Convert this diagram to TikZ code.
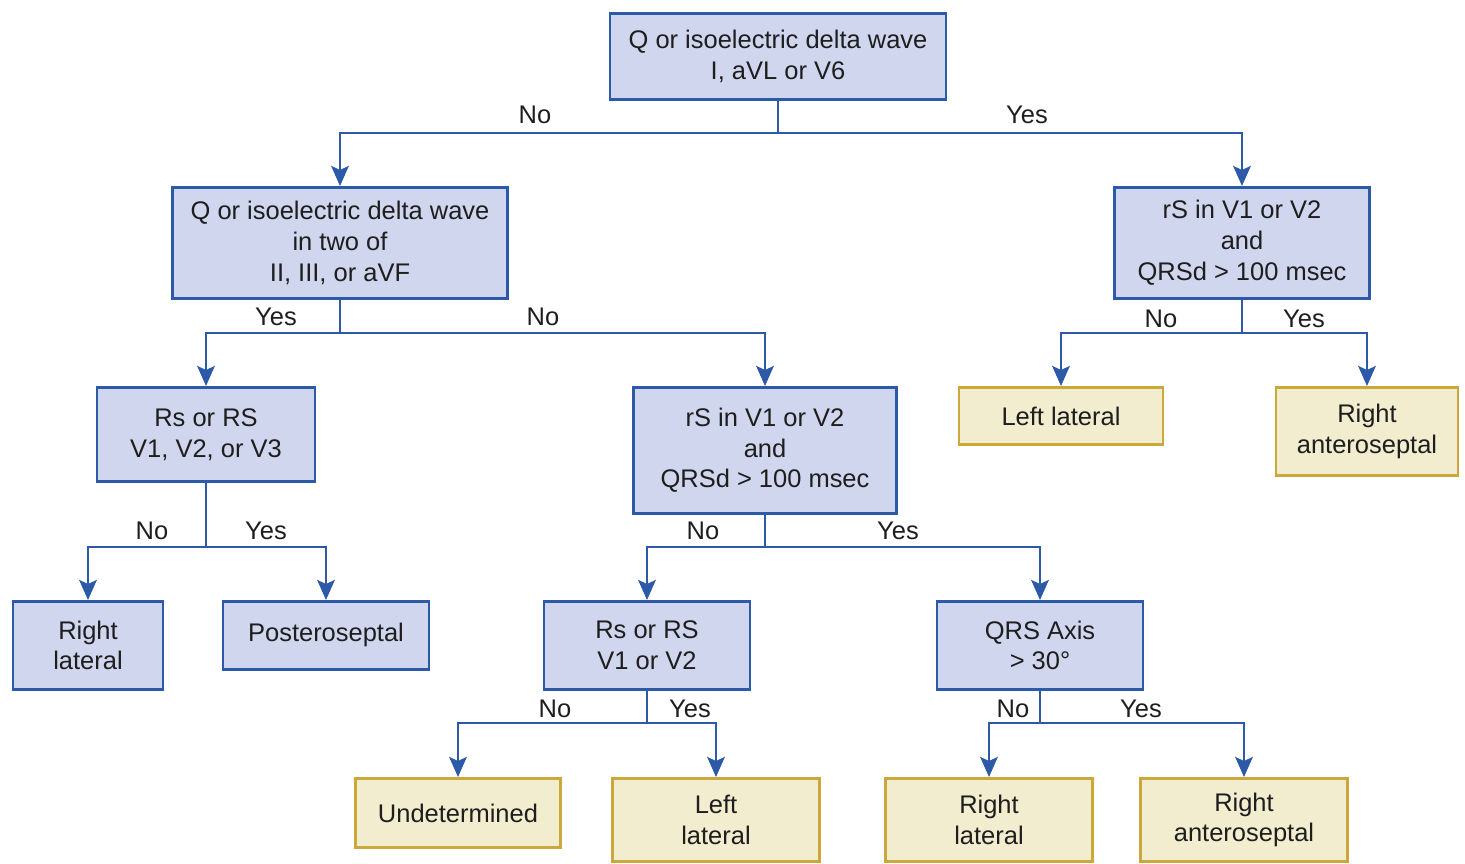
\documentclass[tikz,border=0pt]{standalone}
\usepackage{fontspec}
\setmainfont{Liberation Sans}
\usetikzlibrary{arrows.meta}

\definecolor{qfill}{RGB}{208,214,238}
\definecolor{qline}{RGB}{44,90,168}
\definecolor{afill}{RGB}{243,237,208}
\definecolor{aline}{RGB}{203,167,60}
\definecolor{txt}{RGB}{30,30,30}

\begin{document}
\begin{tikzpicture}[x=0.02cm, y=-0.02cm]

	\tikzstyle{every node}=[font=\fontsize{14.5}{17.5}\selectfont, text=txt]
	\tikzstyle{qbox}=[draw=qline, fill=qfill, line width=1.6pt, align=center, anchor=north, inner sep=2pt]
	\tikzstyle{abox}=[draw=aline, fill=afill, line width=1.6pt, align=center, anchor=north, inner sep=2pt]
	\tikzstyle{link}=[draw=qline, line width=1.6pt]
	\tikzstyle{arrow}=[link, -{Stealth[length=4mm, width=3.5mm, inset=0.8mm]}]

	\useasboundingbox (0,0) rectangle (1465,863);

	% questions
	\node[qbox, minimum width=6.72cm, minimum height=1.72cm] (root) at (778,12) {Q or isoelectric delta wave\\I, aVL or V6};
	\node[qbox, minimum width=6.7cm, minimum height=2.22cm] (A) at (340,186) {Q or isoelectric delta wave\\in two of\\II, III, or aVF};
	\node[qbox, minimum width=5.1cm, minimum height=2.22cm] (B) at (1242,186) {rS in V1 or V2\\and\\QRSd > 100 msec};
	\node[qbox, minimum width=4.36cm, minimum height=1.88cm] (C) at (206,386) {Rs or RS\\V1, V2, or V3};
	\node[qbox, minimum width=5.26cm, minimum height=2.52cm] (D) at (765,386) {rS in V1 or V2\\and\\QRSd > 100 msec};
	\node[qbox, minimum width=4.12cm, minimum height=1.76cm] (E) at (647,600) {Rs or RS\\V1 or V2};
	\node[qbox, minimum width=4.12cm, minimum height=1.76cm] (F) at (1040,600) {QRS Axis\\> 30°};

	% answers
	\node[abox, minimum width=4.08cm, minimum height=1.14cm] (ll1) at (1061,386) {Left lateral};
	\node[abox, minimum width=3.64cm, minimum height=1.76cm] (ra1) at (1367,386) {Right\\anteroseptal};
	\node[qbox, minimum width=3.0cm, minimum height=1.76cm] (rl1) at (88,600) {Right\\lateral};
	\node[qbox, minimum width=4.12cm, minimum height=1.36cm] (ps) at (326,600) {Posteroseptal};
	\node[abox, minimum width=4.1cm, minimum height=1.38cm] (und) at (458,777) {Undetermined};
	\node[abox, minimum width=4.14cm, minimum height=1.66cm] (ll2) at (716,777) {Left\\lateral};
	\node[abox, minimum width=4.14cm, minimum height=1.66cm] (rl2) at (989,777) {Right\\lateral};
	\node[abox, minimum width=4.14cm, minimum height=1.66cm] (ra2) at (1244,777) {Right\\anteroseptal};

	% branch points
	\coordinate (j0) at (778,133);
	\coordinate (jA) at (340,333);
	\coordinate (jB) at (1242,333);
	\coordinate (jC) at (206,547);
	\coordinate (jD) at (765,547);
	\coordinate (jE) at (647,723);
	\coordinate (jF) at (1040,723);

	\draw[link] (root.south) -- (j0);
	\draw[arrow] (j0) -| (A.north);
	\draw[arrow] (j0) -| (B.north);

	\draw[link] (A.south) -- (jA);
	\draw[arrow] (jA) -| (C.north);
	\draw[arrow] (jA) -| (D.north);

	\draw[link] (B.south) -- (jB);
	\draw[arrow] (jB) -| (ll1.north);
	\draw[arrow] (jB) -| (ra1.north);

	\draw[link] (C.south) -- (jC);
	\draw[arrow] (jC) -| (rl1.north);
	\draw[arrow] (jC) -| (ps.north);

	\draw[link] (D.south) -- (jD);
	\draw[arrow] (jD) -| (E.north);
	\draw[arrow] (jD) -| (F.north);

	\draw[link] (E.south) -- (jE);
	\draw[arrow] (jE) -| (und.north);
	\draw[arrow] (jE) -| (ll2.north);

	\draw[link] (F.south) -- (jF);
	\draw[arrow] (jF) -| (rl2.north);
	\draw[arrow] (jF) -| (ra2.north);

	% answers on the branches
	\node (n0) at (535,115) {No};
	\node (y0) at (1027,115) {Yes};
	\node (yA) at (276,317) {Yes};
	\node (nA) at (543,317) {No};
	\node (nB) at (1161,319) {No};
	\node (yB) at (1304,319) {Yes};
	\node (nC) at (152,531) {No};
	\node (yC) at (266,531) {Yes};
	\node (nD) at (703,531) {No};
	\node (yD) at (898,531) {Yes};
	\node (nE) at (555,709) {No};
	\node (yE) at (690,709) {Yes};
	\node (nF) at (1013,709) {No};
	\node (yF) at (1141,709) {Yes};

\end{tikzpicture}
\end{document}
